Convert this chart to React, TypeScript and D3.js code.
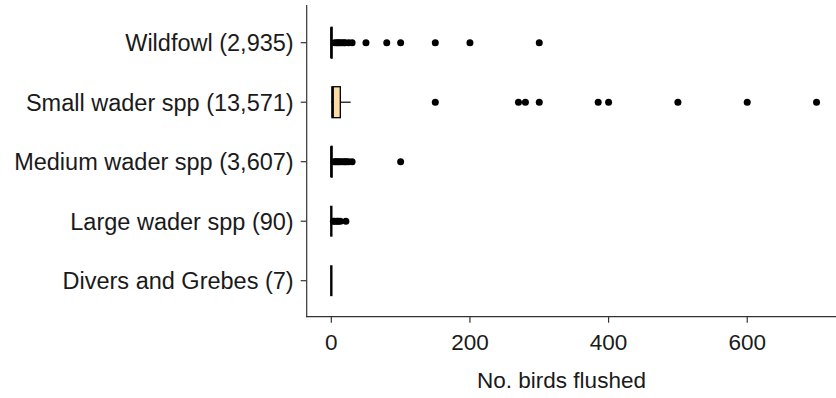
import React from "react";
import * as d3 from "d3";

const categories = [
  "Wildfowl (2,935)",
  "Small wader spp (13,571)",
  "Medium wader spp (3,607)",
  "Large wader spp (90)",
  "Divers and Grebes (7)",
];

// box statistics per category: [whiskerLow, q1, median, q3, whiskerHigh]
const wildfowlStats = [0, 0, 0, 1, 3];
const smallWaderStats = [0, 1, 2, 13, 28];
const mediumWaderStats = [0, 0, 0, 1, 2];
const largeWaderStats = [0, 0, 0, 0, 0];
const diversStats = [0, 0, 0, 0, 0];

const wildfowlOutliers = [5, 8, 10, 12, 15, 18, 20, 25, 30, 50, 80, 100, 150, 200, 300];
const smallWaderOutliers = [150, 270, 280, 300, 385, 400, 500, 600, 700];
const mediumWaderOutliers = [4, 6, 8, 10, 12, 15, 18, 20, 22, 25, 30, 100];
const largeWaderOutliers = [3, 5, 8, 10, 13, 21];
const diversOutliers: number[] = [];

const xTicks = [0, 200, 400, 600];
const xTitle = "No. birds flushed";

const statsList = [wildfowlStats, smallWaderStats, mediumWaderStats, largeWaderStats, diversStats];
const outlierList = [wildfowlOutliers, smallWaderOutliers, mediumWaderOutliers, largeWaderOutliers, diversOutliers];

const W = 836;
const H = 398;
const font = "'Liberation Sans', Arial, sans-serif";

export default function App() {
  const plotLeft = 306.7;
  const plotTop = 5;
  const plotBottom = 316.7;
  const x = d3.scaleLinear().domain([-35.5, 729.5]).range([plotLeft, 837]);
  const y = d3.scalePoint<string>().domain(categories).range([42.7, 280.7]);
  const step = y.step();
  const boxH = step * 0.52;
  const textColor = "#1a1a1a";
  const axisColor = "#333";

  return (
    <svg width={W} height={H} style={{ position: "absolute", left: 0, top: 0 }} fontFamily={font}>
      <rect width={W} height={H} fill="#fff" />
      {/* axes */}
      <line x1={plotLeft} x2={plotLeft} y1={plotTop} y2={plotBottom + 0.5} stroke={axisColor} strokeWidth={1.2} />
      <line x1={plotLeft - 0.5} x2={W} y1={plotBottom} y2={plotBottom} stroke={axisColor} strokeWidth={1.2} />
      {categories.map((c) => (
        <g key={c}>
          <line x1={plotLeft - 6} x2={plotLeft} y1={y(c)} y2={y(c)} stroke={axisColor} strokeWidth={1.2} />
          <text x={plotLeft - 13} y={y(c)} dy="0.36em" textAnchor="end" fontSize={23.5} fill={textColor}>
            {c}
          </text>
        </g>
      ))}
      {xTicks.map((t) => (
        <g key={t}>
          <line x1={x(t)} x2={x(t)} y1={plotBottom} y2={plotBottom + 6} stroke={axisColor} strokeWidth={1.2} />
          <text x={x(t)} y={350} textAnchor="middle" fontSize={22.5} fill={textColor}>
            {t}
          </text>
        </g>
      ))}
      <text x={561.5} y={388} textAnchor="middle" fontSize={22.5} fill={textColor}>
        {xTitle}
      </text>
      {/* boxes */}
      {categories.map((c, i) => {
        const [wl, q1, med, q3, wh] = statsList[i];
        const cy = y(c) as number;
        return (
          <g key={c}>
            <line x1={x(wl)} x2={x(q1)} y1={cy} y2={cy} stroke="#000" strokeWidth={1.2} />
            <line x1={x(q3)} x2={x(wh)} y1={cy} y2={cy} stroke="#000" strokeWidth={1.2} />
            <rect
              x={x(q1)}
              y={cy - boxH / 2}
              width={Math.max(0, x(q3) - x(q1))}
              height={boxH}
              fill="#FDDDA5"
              stroke="#000"
              strokeWidth={1.3}
            />
            <line x1={x(med)} x2={x(med)} y1={cy - boxH / 2} y2={cy + boxH / 2} stroke="#000" strokeWidth={2.4} />
            {outlierList[i].map((v, j) => (
              <circle key={j} cx={x(v)} cy={cy} r={3.5} fill="#000" />
            ))}
          </g>
        );
      })}
    </svg>
  );
}
